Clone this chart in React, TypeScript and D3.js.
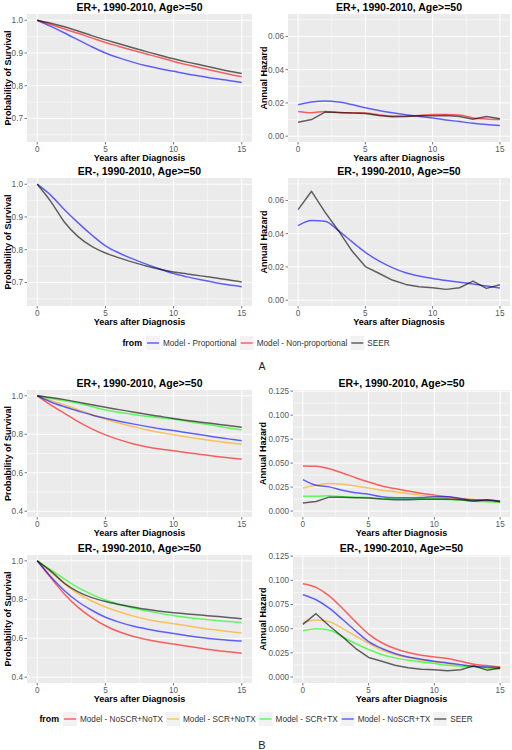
import React from 'react';
import * as d3 from 'd3';

const FONT = '"Liberation Sans", Arial, Helvetica, sans-serif';

const YEARS = [0, 1, 2, 3, 4, 5, 6, 7, 8, 9, 10, 11, 12, 13, 14, 15];

// SEER observed
const SEER_POS_SURV = [1.0, 0.991, 0.980, 0.967, 0.953, 0.940, 0.928, 0.916, 0.904, 0.893, 0.882, 0.872, 0.863, 0.854, 0.845, 0.837];
const SEER_POS_HAZ = [0.0084, 0.0100, 0.0145, 0.0143, 0.0139, 0.0137, 0.0125, 0.0117, 0.0119, 0.0123, 0.0123, 0.0125, 0.0119, 0.0102, 0.0119, 0.0105];
const SEER_NEG_SURV = [1.0, 0.947, 0.884, 0.840, 0.810, 0.790, 0.775, 0.762, 0.750, 0.740, 0.732, 0.726, 0.720, 0.714, 0.708, 0.701];
const SEER_NEG_HAZ = [0.0545, 0.0655, 0.0530, 0.0418, 0.0297, 0.0202, 0.0162, 0.0121, 0.0095, 0.0081, 0.0075, 0.0065, 0.0075, 0.0115, 0.0071, 0.0093];

// Panel A models
const PROP_POS_SURV = [1.0, 0.981, 0.961, 0.940, 0.919, 0.900, 0.885, 0.872, 0.861, 0.852, 0.844, 0.836, 0.829, 0.822, 0.816, 0.810];
const NONPROP_POS_SURV = [1.0, 0.987, 0.973, 0.960, 0.946, 0.932, 0.920, 0.908, 0.897, 0.886, 0.874, 0.864, 0.854, 0.845, 0.836, 0.827];
const PROP_POS_HAZ = [0.0189, 0.0205, 0.0211, 0.0205, 0.0190, 0.0171, 0.0155, 0.0141, 0.0129, 0.0119, 0.0109, 0.0098, 0.0088, 0.0078, 0.0070, 0.0064];
const NONPROP_POS_HAZ = [0.0149, 0.0141, 0.0149, 0.0143, 0.0141, 0.0139, 0.0129, 0.0121, 0.0121, 0.0125, 0.0130, 0.0130, 0.0127, 0.0110, 0.0104, 0.0100];
const PROP_NEG_SURV = [1.0, 0.966, 0.922, 0.882, 0.845, 0.812, 0.790, 0.772, 0.756, 0.741, 0.727, 0.717, 0.708, 0.700, 0.693, 0.687];
const PROP_NEG_HAZ = [0.0448, 0.0479, 0.0475, 0.0418, 0.0352, 0.0288, 0.0236, 0.0196, 0.0165, 0.0145, 0.0131, 0.0119, 0.0108, 0.0097, 0.0085, 0.0073];

// Panel B models, ER+
const NOSCR_NOTX_POS_SURV = [1, 0.952, 0.909, 0.866, 0.828, 0.797, 0.772, 0.751, 0.735, 0.723, 0.714, 0.704, 0.695, 0.686, 0.678, 0.671];
const SCR_NOTX_POS_SURV = [1, 0.976, 0.952, 0.928, 0.903, 0.878, 0.858, 0.840, 0.823, 0.809, 0.797, 0.786, 0.775, 0.765, 0.756, 0.748];
const SCR_TX_POS_SURV = [1, 0.986, 0.974, 0.961, 0.944, 0.926, 0.914, 0.903, 0.894, 0.886, 0.878, 0.867, 0.856, 0.845, 0.833, 0.822];
const NOSCR_TX_POS_SURV = [1, 0.968, 0.943, 0.921, 0.900, 0.883, 0.868, 0.854, 0.841, 0.829, 0.819, 0.808, 0.797, 0.786, 0.776, 0.766];
const NOSCR_NOTX_POS_HAZ = [0.0469, 0.0466, 0.0441, 0.0397, 0.0348, 0.0303, 0.0262, 0.0234, 0.0210, 0.0186, 0.0166, 0.0148, 0.0128, 0.0114, 0.0107, 0.0097];
const SCR_NOTX_POS_HAZ = [0.0241, 0.0269, 0.0286, 0.0279, 0.0262, 0.0241, 0.0217, 0.0200, 0.0183, 0.0166, 0.0148, 0.0141, 0.0131, 0.0121, 0.0107, 0.0097];
const SCR_TX_POS_HAZ = [0.0155, 0.0155, 0.0159, 0.0148, 0.0145, 0.0141, 0.0128, 0.0128, 0.0128, 0.0128, 0.0128, 0.0121, 0.0114, 0.0103, 0.0097, 0.0090];
const NOSCR_TX_POS_HAZ = [0.0328, 0.0269, 0.0252, 0.0217, 0.0190, 0.0176, 0.0148, 0.0138, 0.0138, 0.0141, 0.0148, 0.0148, 0.0131, 0.0114, 0.0114, 0.0097];

// Panel B models, ER-
const NOSCR_NOTX_NEG_SURV = [1, 0.912, 0.828, 0.760, 0.707, 0.665, 0.634, 0.611, 0.594, 0.581, 0.571, 0.560, 0.549, 0.539, 0.531, 0.524];
const SCR_NOTX_NEG_SURV = [1, 0.942, 0.882, 0.830, 0.793, 0.762, 0.737, 0.716, 0.699, 0.686, 0.676, 0.665, 0.654, 0.644, 0.636, 0.628];
const SCR_TX_NEG_SURV = [1, 0.953, 0.906, 0.862, 0.827, 0.798, 0.776, 0.757, 0.742, 0.729, 0.718, 0.708, 0.700, 0.693, 0.687, 0.681];
const NOSCR_TX_NEG_SURV = [1, 0.918, 0.846, 0.789, 0.745, 0.709, 0.684, 0.664, 0.649, 0.636, 0.625, 0.614, 0.605, 0.597, 0.591, 0.586];
const NOSCR_NOTX_NEG_HAZ = [0.0965, 0.0927, 0.0840, 0.0712, 0.0573, 0.0444, 0.0354, 0.0295, 0.0253, 0.0226, 0.0208, 0.0191, 0.0163, 0.0132, 0.0118, 0.0104];
const SCR_NOTX_NEG_HAZ = [0.0563, 0.0590, 0.0573, 0.0503, 0.0424, 0.0347, 0.0278, 0.0233, 0.0201, 0.0174, 0.0156, 0.0139, 0.0122, 0.0111, 0.0097, 0.0087];
const SCR_TX_NEG_HAZ = [0.0479, 0.0500, 0.0486, 0.0417, 0.0347, 0.0285, 0.0233, 0.0198, 0.0174, 0.0156, 0.0139, 0.0122, 0.0111, 0.0104, 0.0094, 0.0083];
const NOSCR_TX_NEG_HAZ = [0.0851, 0.0799, 0.0712, 0.0597, 0.0479, 0.0365, 0.0295, 0.0243, 0.0208, 0.0184, 0.0163, 0.0146, 0.0128, 0.0111, 0.0104, 0.0097];

// Labels
const TITLE_POS = 'ER+, 1990-2010, Age>=50';
const TITLE_NEG = 'ER-, 1990-2010, Age>=50';
const X_LABEL = 'Years after Diagnosis';
const Y_SURV = 'Probability of Survival';
const Y_HAZ = 'Annual Hazard';
const X_TICKS = [0, 5, 10, 15];
const X_MINOR = [2.5, 7.5, 12.5];
const A_SURV_TICKS = [0.7, 0.8, 0.9, 1.0];
const A_SURV_MINOR = [0.65, 0.75, 0.85, 0.95];
const A_HAZ_TICKS = [0, 0.02, 0.04, 0.06];
const A_HAZ_MINOR = [0.01, 0.03, 0.05, 0.07];
const B_SURV_TICKS = [0.4, 0.6, 0.8, 1.0];
const B_SURV_MINOR = [0.5, 0.7, 0.9];
const B_HAZ_TICKS = [0, 0.025, 0.05, 0.075, 0.1, 0.125];
const B_HAZ_MINOR = [0.0125, 0.0375, 0.0625, 0.0875, 0.1125];

const LEGEND_A = ['Model - Proportional', 'Model - Non-proportional', 'SEER'];
const LEGEND_B = ['Model - NoSCR+NoTX', 'Model - SCR+NoTX', 'Model - SCR+TX', 'Model - NoSCR+TX', 'SEER'];

const C_RED = '#ff0000';
const C_ORANGE = '#ffa500';
const C_GREEN = '#00ff00';
const C_BLUE = '#0000ff';
const C_BLACK = '#000000';
const LINE_ALPHA = 0.6;
const LINE_W = 1.5;

const X_DOMAIN = [-0.75, 15.75];

type Series = { values: number[]; color: string; linear?: boolean };
type PanelSpec = {
  title: string;
  box: { left: number; right: number; top: number; bottom: number };
  yDomain: number[];
  yTicks: number[];
  yMinor: number[];
  yFmt: string;
  yLabel: string;
  yLabelX: number;
  series: Series[];
};

const LEFT = { left: 27, right: 252 };
const RIGHT_A = { left: 288, right: 510 };
const RIGHT_B = { left: 293, right: 510 };

const A_SURV_DOM = [0.628, 1.019];
const A_HAZ_DOM = [-0.0035, 0.0735];
const B_SURV_DOM = [0.37, 1.03];
const B_HAZ_DOM = [-0.0062, 0.1262];

const panels: PanelSpec[] = [
  {
    title: TITLE_POS, box: { ...LEFT, top: 14, bottom: 142 }, yDomain: A_SURV_DOM,
    yTicks: A_SURV_TICKS, yMinor: A_SURV_MINOR, yFmt: '.1f', yLabel: Y_SURV, yLabelX: 8,
    series: [
      { values: PROP_POS_SURV, color: C_BLUE },
      { values: NONPROP_POS_SURV, color: C_RED },
      { values: SEER_POS_SURV, color: C_BLACK },
    ],
  },
  {
    title: TITLE_POS, box: { ...RIGHT_A, top: 14, bottom: 142 }, yDomain: A_HAZ_DOM,
    yTicks: A_HAZ_TICKS, yMinor: A_HAZ_MINOR, yFmt: '.2f', yLabel: Y_HAZ, yLabelX: 264,
    series: [
      { values: PROP_POS_HAZ, color: C_BLUE },
      { values: NONPROP_POS_HAZ, color: C_RED },
      { values: SEER_POS_HAZ, color: C_BLACK, linear: true },
    ],
  },
  {
    title: TITLE_NEG, box: { ...LEFT, top: 178, bottom: 306 }, yDomain: A_SURV_DOM,
    yTicks: A_SURV_TICKS, yMinor: A_SURV_MINOR, yFmt: '.1f', yLabel: Y_SURV, yLabelX: 8,
    series: [
      { values: PROP_NEG_SURV, color: C_BLUE },
      { values: SEER_NEG_SURV, color: C_BLACK },
    ],
  },
  {
    title: TITLE_NEG, box: { ...RIGHT_A, top: 178, bottom: 306 }, yDomain: A_HAZ_DOM,
    yTicks: A_HAZ_TICKS, yMinor: A_HAZ_MINOR, yFmt: '.2f', yLabel: Y_HAZ, yLabelX: 264,
    series: [
      { values: PROP_NEG_HAZ, color: C_BLUE },
      { values: SEER_NEG_HAZ, color: C_BLACK, linear: true },
    ],
  },
  {
    title: TITLE_POS, box: { ...LEFT, top: 390, bottom: 517 }, yDomain: B_SURV_DOM,
    yTicks: B_SURV_TICKS, yMinor: B_SURV_MINOR, yFmt: '.1f', yLabel: Y_SURV, yLabelX: 8,
    series: [
      { values: NOSCR_NOTX_POS_SURV, color: C_RED },
      { values: SCR_NOTX_POS_SURV, color: C_ORANGE },
      { values: SCR_TX_POS_SURV, color: C_GREEN },
      { values: NOSCR_TX_POS_SURV, color: C_BLUE },
      { values: SEER_POS_SURV, color: C_BLACK },
    ],
  },
  {
    title: TITLE_POS, box: { ...RIGHT_B, top: 390, bottom: 517 }, yDomain: B_HAZ_DOM,
    yTicks: B_HAZ_TICKS, yMinor: B_HAZ_MINOR, yFmt: '.3f', yLabel: Y_HAZ, yLabelX: 263,
    series: [
      { values: NOSCR_NOTX_POS_HAZ, color: C_RED },
      { values: SCR_NOTX_POS_HAZ, color: C_ORANGE },
      { values: SCR_TX_POS_HAZ, color: C_GREEN },
      { values: NOSCR_TX_POS_HAZ, color: C_BLUE },
      { values: SEER_POS_HAZ, color: C_BLACK, linear: true },
    ],
  },
  {
    title: TITLE_NEG, box: { ...LEFT, top: 555, bottom: 683 }, yDomain: B_SURV_DOM,
    yTicks: B_SURV_TICKS, yMinor: B_SURV_MINOR, yFmt: '.1f', yLabel: Y_SURV, yLabelX: 8,
    series: [
      { values: NOSCR_NOTX_NEG_SURV, color: C_RED },
      { values: SCR_NOTX_NEG_SURV, color: C_ORANGE },
      { values: SCR_TX_NEG_SURV, color: C_GREEN },
      { values: NOSCR_TX_NEG_SURV, color: C_BLUE },
      { values: SEER_NEG_SURV, color: C_BLACK },
    ],
  },
  {
    title: TITLE_NEG, box: { ...RIGHT_B, top: 555, bottom: 683 }, yDomain: B_HAZ_DOM,
    yTicks: B_HAZ_TICKS, yMinor: B_HAZ_MINOR, yFmt: '.3f', yLabel: Y_HAZ, yLabelX: 263,
    series: [
      { values: NOSCR_NOTX_NEG_HAZ, color: C_RED },
      { values: SCR_NOTX_NEG_HAZ, color: C_ORANGE },
      { values: SCR_TX_NEG_HAZ, color: C_GREEN },
      { values: NOSCR_TX_NEG_HAZ, color: C_BLUE },
      { values: SEER_NEG_HAZ, color: C_BLACK, linear: true },
    ],
  },
];

const TICK_COLOR = '#555555';
const AXIS_TEXT = '#5a5a5a';

function Panel({ spec }: { spec: PanelSpec }) {
  const { left, right, top, bottom } = spec.box;
  const x = d3.scaleLinear().domain(X_DOMAIN).range([left, right]);
  const y = d3.scaleLinear().domain(spec.yDomain).range([bottom, top]);
  const fmt = d3.format(spec.yFmt);
  const cx = (left + right) / 2;
  const cy = (top + bottom) / 2;
  return (
    <g>
      <rect x={left} y={top} width={right - left} height={bottom - top} fill="#ebebeb" />
      {X_MINOR.map((v) => (
        <line key={'xm' + v} x1={x(v)} x2={x(v)} y1={top} y2={bottom} stroke="#fff" strokeWidth={0.5} />
      ))}
      {spec.yMinor.map((v) => (
        <line key={'ym' + v} x1={left} x2={right} y1={y(v)} y2={y(v)} stroke="#fff" strokeWidth={0.5} />
      ))}
      {X_TICKS.map((v) => (
        <line key={'xg' + v} x1={x(v)} x2={x(v)} y1={top} y2={bottom} stroke="#fff" strokeWidth={1} />
      ))}
      {spec.yTicks.map((v) => (
        <line key={'yg' + v} x1={left} x2={right} y1={y(v)} y2={y(v)} stroke="#fff" strokeWidth={1} />
      ))}
      {spec.series.map((s, i) => {
        const gen = d3
          .line<number>()
          .x((_, j) => x(YEARS[j]))
          .y((d) => y(d))
          .curve(s.linear ? d3.curveLinear : d3.curveMonotoneX);
        return (
          <path key={'s' + i} d={gen(s.values) || ''} fill="none" stroke={s.color}
            strokeOpacity={LINE_ALPHA} strokeWidth={LINE_W} strokeLinejoin="round" />
        );
      })}
      {X_TICKS.map((v) => (
        <g key={'xt' + v}>
          <line x1={x(v)} x2={x(v)} y1={bottom} y2={bottom + 2.5} stroke={TICK_COLOR} strokeWidth={0.8} />
          <text x={x(v)} y={bottom + 10} textAnchor="middle" fontSize={8.2} fill={AXIS_TEXT} fontFamily={FONT}>
            {v}
          </text>
        </g>
      ))}
      {spec.yTicks.map((v) => (
        <g key={'yt' + v}>
          <line x1={left - 2.5} x2={left} y1={y(v)} y2={y(v)} stroke={TICK_COLOR} strokeWidth={0.8} />
          <text x={left - 4} y={y(v)} dy="0.35em" textAnchor="end" fontSize={8.2} fill={AXIS_TEXT} fontFamily={FONT}>
            {fmt(v)}
          </text>
        </g>
      ))}
      <text x={cx} y={top - 3.5} textAnchor="middle" fontSize={10.5} fontWeight="bold" fill="#000" fontFamily={FONT}>
        {spec.title}
      </text>
      <text x={cx} y={bottom + 18.5} textAnchor="middle" fontSize={9} fontWeight="bold" fill="#000" fontFamily={FONT}>
        {X_LABEL}
      </text>
      <text transform={`translate(${spec.yLabelX},${cy}) rotate(-90)`} dy="0.35em" textAnchor="middle"
        fontSize={9} fontWeight="bold" fill="#000" fontFamily={FONT}>
        {spec.yLabel}
      </text>
    </g>
  );
}

let measureCtx: CanvasRenderingContext2D | null = null;
function measure(text: string, size: number, bold: boolean) {
  if (!measureCtx) measureCtx = document.createElement('canvas').getContext('2d');
  if (!measureCtx) return text.length * size * 0.55;
  measureCtx.font = `${bold ? 'bold ' : ''}${size}px ${FONT}`;
  return measureCtx.measureText(text).width;
}

function Legend({ labels, colors, cy }: { labels: string[]; colors: string[]; cy: number }) {
  const titleSize = 8.8;
  const itemSize = 8.2;
  const keyW = 14;
  const titleW = measure('from', titleSize, true);
  const widths = labels.map((l) => measure(l, itemSize, false));
  const total = titleW + 4 + widths.reduce((a, w) => a + keyW + 3 + w, 0) + (labels.length - 1) * 3;
  let cursor = 256 - total / 2;
  const title = (
    <text x={cursor} y={cy} dy="0.35em" fontSize={titleSize} fontWeight="bold" fontFamily={FONT} fill="#000">
      from
    </text>
  );
  cursor += titleW + 4;
  const items = labels.map((l, i) => {
    const kx = cursor;
    cursor += keyW + 3 + widths[i] + 3;
    return (
      <g key={l}>
        <rect x={kx} y={cy - keyW / 2} width={keyW} height={keyW} fill="#f2f2f2" />
        <line x1={kx + 1} x2={kx + keyW - 1} y1={cy} y2={cy} stroke={colors[i]} strokeOpacity={LINE_ALPHA} strokeWidth={LINE_W} />
        <text x={kx + keyW + 3} y={cy} dy="0.35em" fontSize={itemSize} fontFamily={FONT} fill="#333">
          {l}
        </text>
      </g>
    );
  });
  return (
    <g>
      {title}
      {items}
    </g>
  );
}

export default function App() {
  return (
    <svg width={512} height={750} viewBox="0 0 512 750"
      style={{ position: 'absolute', left: 0, top: 0, background: '#fff' }}>
      <rect x={0} y={0} width={512} height={750} fill="#fff" />
      {panels.map((p, i) => (
        <Panel key={i} spec={p} />
      ))}
      <Legend labels={LEGEND_A} colors={[C_BLUE, C_RED, C_BLACK]} cy={343} />
      <Legend labels={LEGEND_B} colors={[C_RED, C_ORANGE, C_GREEN, C_BLUE, C_BLACK]} cy={719} />
      <text x={262} y={369.5} textAnchor="middle" fontSize={10.5} fontFamily={FONT} fill="#222">A</text>
      <text x={262} y={749} textAnchor="middle" fontSize={11} fontFamily={FONT} fill="#222">B</text>
    </svg>
  );
}
